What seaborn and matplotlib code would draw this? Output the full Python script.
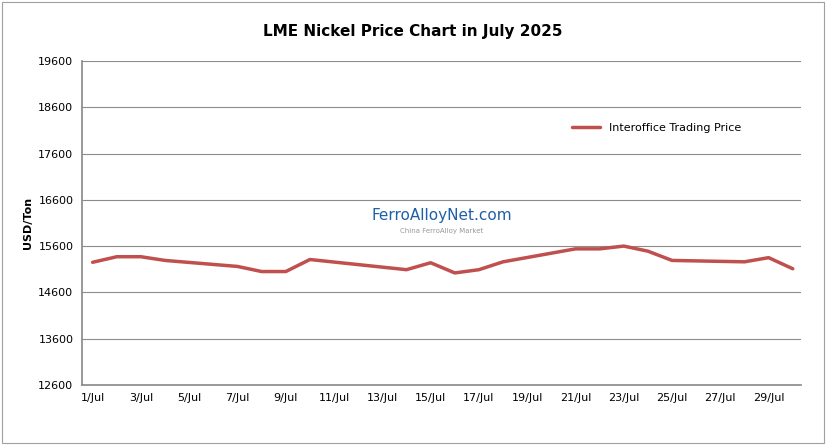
import matplotlib
matplotlib.use("Agg")
import matplotlib.pyplot as plt
import seaborn as sns
import pandas as pd

days = [1, 2, 3, 4, 7, 8, 9, 10, 11, 14, 15, 16, 17, 18, 21, 22, 23, 24, 25, 28, 29, 30]
prices = [15250, 15370, 15370, 15290, 15160, 15050, 15050, 15310, 15255, 15090, 15240,
          15020, 15090, 15260, 15540, 15540, 15600, 15490, 15290, 15260, 15350, 15110]
tick_days = list(range(1, 30, 2))
tick_labels = [f"{d}/Jul" for d in tick_days]
y_ticks = [12600, 13600, 14600, 15600, 16600, 17600, 18600, 19600]

df = pd.DataFrame({"day": days, "price": prices})

sns.set_theme(style="white", rc={"text.color": "black", "axes.labelcolor": "black",
                                 "xtick.color": "black", "ytick.color": "black"})
fig = plt.figure(figsize=(8.26, 4.45), dpi=100)
ax = fig.add_axes([0.099, 0.135, 0.871, 0.728])

sns.lineplot(data=df, x="day", y="price", color="#C0504D", linewidth=2.5,
             label="Interoffice Trading Price", ax=ax)

ax.set_xlim(0.55, 30.35)
ax.set_ylim(12600, 19600)
ax.set_yticks(y_ticks)
ax.set_yticklabels([str(v) for v in y_ticks], fontsize=8)
ax.set_xticks(tick_days)
ax.set_xticklabels(tick_labels, fontsize=8)
ax.tick_params(axis="both", length=0, pad=6)
ax.yaxis.grid(True, color="#8C8C8C", linewidth=0.8)
ax.xaxis.grid(False)
for s in ["top", "right"]:
    ax.spines[s].set_visible(False)
for s in ["left", "bottom"]:
    ax.spines[s].set_color("#8C8C8C")
ax.set_xlabel("")
ax.set_ylabel("USD/Ton", fontsize=8, fontweight="bold")
fig.suptitle("LME Nickel Price Chart in July 2025", y=0.945, fontsize=11, fontweight="bold")

ax.legend(loc="upper right", bbox_to_anchor=(0.93, 0.84), frameon=False,
          fontsize=8, handlelength=2.5)

ax.text(0.5, 0.51, "FerroAlloyNet.com", transform=ax.transAxes, ha="center",
        fontsize=11, color="#1F5FA8")
ax.text(0.5, 0.47, "China FerroAlloy Market", transform=ax.transAxes, ha="center",
        fontsize=5, color="#999999")

# outer border of the chart area
fig.patches.append(plt.Rectangle((0.003, 0.005), 0.994, 0.99, transform=fig.transFigure,
                                 fill=False, edgecolor="#A0A0A0", linewidth=0.8))

fig.savefig("out.png", dpi=100)
